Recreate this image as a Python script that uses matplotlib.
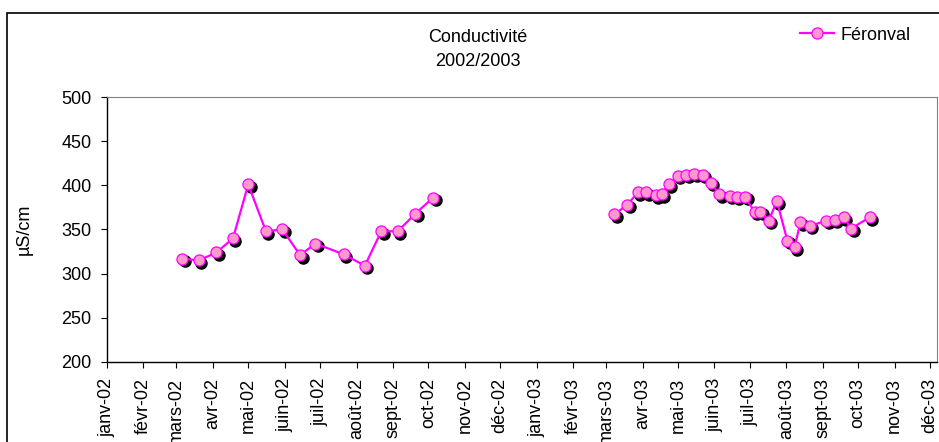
import matplotlib
matplotlib.use('Agg')
import matplotlib.pyplot as plt
import matplotlib.dates as mdates
from matplotlib.patches import Rectangle
from matplotlib.transforms import offset_copy
import numpy as np

plt.rcParams['font.family'] = ['Liberation Sans', 'DejaVu Sans']

# Féronval conductivity, 2002 campaign
dates_2002 = ['2002-03-06', '2002-03-20', '2002-04-04', '2002-04-18', '2002-05-01',
              '2002-05-16', '2002-05-30', '2002-06-14', '2002-06-27', '2002-07-21',
              '2002-08-08', '2002-08-22', '2002-09-05', '2002-09-20', '2002-10-05']
cond_2002 = [317, 315, 324, 340, 401, 348, 350, 321, 334, 322, 309, 348, 348, 368, 386]

# 2003 campaign
dates_2003 = ['2003-03-08', '2003-03-19', '2003-03-28', '2003-04-04', '2003-04-12',
              '2003-04-17', '2003-04-23', '2003-05-01', '2003-05-08', '2003-05-15',
              '2003-05-22', '2003-05-29', '2003-06-05', '2003-06-14', '2003-06-20',
              '2003-06-27', '2003-07-05', '2003-07-10', '2003-07-17', '2003-07-24',
              '2003-08-02', '2003-08-08', '2003-08-13', '2003-08-21', '2003-09-04',
              '2003-09-11', '2003-09-19', '2003-09-25', '2003-10-11']
cond_2003 = [367, 378, 392, 392, 389, 390, 401, 411, 412, 413, 412, 403, 390, 388, 387,
             387, 370, 370, 360, 382, 337, 330, 358, 354, 360, 361, 364, 351, 364]

month_labels = ['janv', 'févr', 'mars', 'avr', 'mai', 'juin', 'juil', 'août',
                'sept', 'oct', 'nov', 'déc']
years = ['02', '03']

W, H = 939, 442
fig = plt.figure(figsize=(W / 100, H / 100), dpi=100)
ax = fig.add_axes([107 / W, 1 - 362 / H, (937 - 107) / W, (362 - 97) / H])

pink_edge = '#FF00FF'
pink_face = '#FF99CC'
shadow = offset_copy(ax.transData, fig=fig, x=2.5, y=-2.5, units='dots')

for i, (d, v) in enumerate([(dates_2002, cond_2002), (dates_2003, cond_2003)]):
    x = np.array(d, dtype='datetime64[D]')
    # drop shadow behind the markers
    ax.plot(x, v, 'o', color='black', markersize=8, transform=shadow, zorder=2)
    ax.plot(x, v, '-o', color=pink_edge, lw=1.6, markersize=8,
            markerfacecolor=pink_face, markeredgecolor=pink_edge, markeredgewidth=0.9,
            zorder=3, label='Féronval' if i == 0 else None)

ax.set_ylim(200, 500)
ax.set_yticks(range(200, 501, 50))
ax.set_xlim(np.datetime64('2002-01-01'), np.datetime64('2003-12-07'))

ticks = [np.datetime64(f'20{y}-{m:02d}-01') for y in years for m in range(1, 13)]
ax.set_xticks(ticks)
ax.set_xticklabels([f'{lab}-{y}' for y in years for lab in month_labels],
                   rotation=90, ha='center', va='top')

ax.tick_params(axis='both', labelsize=13, direction='out', color='black')
ax.tick_params(axis='y', length=4, pad=7)
ax.tick_params(axis='x', length=4.5, pad=7)
ax.set_ylabel('µS/cm', fontsize=13, labelpad=12)
ax.yaxis.set_label_coords(-(107 - 33) / (937 - 107), 0.5)

for s in ['top', 'right']:
    ax.spines[s].set_color('#808080')
    ax.spines[s].set_linewidth(0.8)
for s in ['left', 'bottom']:
    ax.spines[s].set_color('black')
    ax.spines[s].set_linewidth(1.0)

fig.text(478 / W, 1 - 38 / H, 'Conductivité', ha='center', va='center', fontsize=13)
fig.text(478 / W, 1 - 62 / H, '2002/2003', ha='center', va='center', fontsize=13)

fig.legend(loc='center left', bbox_to_anchor=(800 / W, 1 - 35 / H), frameon=False,
           fontsize=13, handlelength=1.9, handletextpad=0.35, borderpad=0,
           borderaxespad=0)

# chart area border, cut off on the right and bottom like the original
fig.patches.append(Rectangle((7 / W, -0.1), 1.2, 1 - 13 / H + 0.1, fill=False,
                             edgecolor='black', lw=1.2, transform=fig.transFigure))

fig.savefig('out.png', dpi=100)
